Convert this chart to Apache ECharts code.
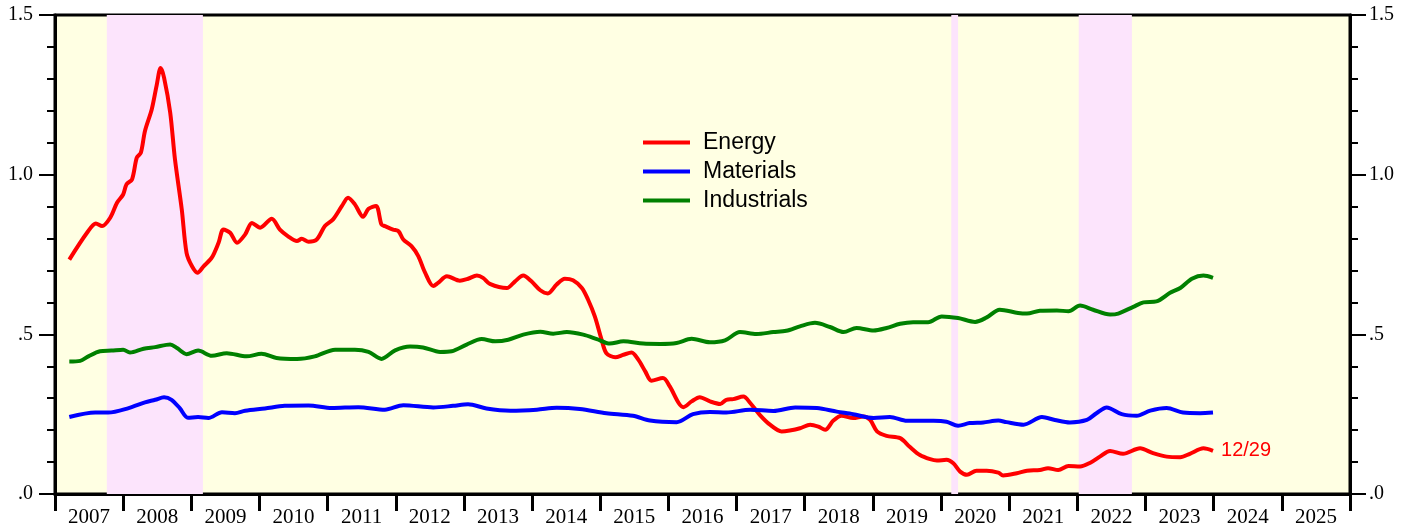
<!DOCTYPE html>
<html>
<head>
<meta charset="utf-8">
<script src="https://cdn.jsdelivr.net/npm/echarts@6/dist/echarts.min.js"></script>
<style>
html, body { margin: 0; padding: 0; background: #ffffff; }
#chart { width: 1418px; height: 529px; }
</style>
</head>
<body>
<div id="chart"></div>
<script>
// x values are decimal years
var years = ['2007','2008','2009','2010','2011','2012','2013','2014','2015','2016',
             '2017','2018','2019','2020','2021','2022','2023','2024','2025'];
var yTicks = [0, 0.5, 1, 1.5];
var yLabels = ['.0', '.5', '1.0', '1.5'];
var recessions = [[2007.76, 2009.17], [2020.15, 2020.25], [2022.02, 2022.80]];
var lastLabel = '12/29';

var energy = [
  [2007.21,0.734],[2007.47,0.818],[2007.60,0.847],[2007.69,0.839],[2007.81,0.865],[2007.91,0.912],
  [2008.00,0.938],[2008.05,0.970],[2008.13,0.985],[2008.20,1.053],[2008.26,1.069],[2008.32,1.137],
  [2008.42,1.205],[2008.49,1.278],[2008.55,1.334],[2008.60,1.304],[2008.69,1.195],[2008.76,1.048],
  [2008.86,0.891],[2008.93,0.755],[2009.01,0.713],[2009.09,0.693],[2009.18,0.713],[2009.30,0.740],
  [2009.40,0.787],[2009.47,0.828],[2009.57,0.818],[2009.67,0.787],[2009.79,0.813],[2009.89,0.849],
  [2010.01,0.834],[2010.18,0.862],[2010.30,0.828],[2010.42,0.807],[2010.55,0.792],[2010.62,0.799],
  [2010.72,0.790],[2010.84,0.797],[2010.96,0.839],[2011.08,0.860],[2011.21,0.902],[2011.30,0.928],
  [2011.40,0.907],[2011.52,0.868],[2011.60,0.893],[2011.71,0.902],[2011.79,0.844],[2011.84,0.839],
  [2011.96,0.828],[2012.04,0.823],[2012.11,0.797],[2012.23,0.776],[2012.33,0.745],[2012.43,0.693],
  [2012.55,0.651],[2012.62,0.661],[2012.75,0.682],[2012.94,0.668],[2013.06,0.674],[2013.19,0.684],
  [2013.28,0.677],[2013.38,0.658],[2013.63,0.645],[2013.75,0.666],[2013.87,0.684],[2013.99,0.666],
  [2014.12,0.638],[2014.23,0.628],[2014.36,0.656],[2014.48,0.674],[2014.60,0.669],[2014.73,0.645],
  [2014.82,0.609],[2014.92,0.556],[2015.02,0.483],[2015.09,0.441],[2015.22,0.428],[2015.34,0.436],
  [2015.46,0.443],[2015.56,0.420],[2015.66,0.384],[2015.75,0.355],[2015.92,0.363],[2016.02,0.337],
  [2016.15,0.285],[2016.22,0.272],[2016.34,0.290],[2016.46,0.303],[2016.61,0.290],[2016.76,0.282],
  [2016.85,0.295],[2016.95,0.297],[2017.10,0.305],[2017.20,0.285],[2017.34,0.248],[2017.49,0.217],
  [2017.66,0.196],[2017.78,0.199],[2017.93,0.206],[2018.08,0.217],[2018.20,0.211],[2018.30,0.201],
  [2018.42,0.230],[2018.54,0.245],[2018.71,0.238],[2018.86,0.243],[2018.96,0.232],[2019.06,0.196],
  [2019.20,0.182],[2019.40,0.175],[2019.54,0.148],[2019.69,0.122],[2019.84,0.109],[2019.94,0.105],
  [2020.08,0.107],[2020.18,0.096],[2020.28,0.070],[2020.38,0.060],[2020.52,0.073],[2020.67,0.073],
  [2020.84,0.067],[2020.91,0.058],[2021.11,0.065],[2021.26,0.073],[2021.45,0.075],[2021.57,0.081],
  [2021.72,0.075],[2021.87,0.088],[2022.04,0.086],[2022.19,0.098],[2022.33,0.117],[2022.48,0.135],
  [2022.67,0.126],[2022.92,0.143],[2023.11,0.128],[2023.31,0.117],[2023.51,0.115],[2023.65,0.126],
  [2023.85,0.143],[2023.99,0.135]
];

var materials = [
  [2007.21,0.241],[2007.59,0.255],[2007.78,0.255],[2008.08,0.269],[2008.32,0.287],[2008.47,0.295],
  [2008.60,0.303],[2008.71,0.295],[2008.83,0.269],[2008.95,0.239],[2009.10,0.241],[2009.25,0.238],
  [2009.45,0.256],[2009.64,0.253],[2009.79,0.261],[2010.08,0.268],[2010.37,0.276],[2010.72,0.277],
  [2011.06,0.269],[2011.45,0.272],[2011.84,0.264],[2012.11,0.278],[2012.55,0.271],[2012.84,0.276],
  [2013.06,0.281],[2013.33,0.268],[2013.68,0.261],[2014.07,0.264],[2014.36,0.270],[2014.70,0.266],
  [2015.09,0.253],[2015.48,0.245],[2015.73,0.230],[2016.12,0.225],[2016.36,0.250],[2016.61,0.257],
  [2016.85,0.255],[2017.20,0.264],[2017.54,0.260],[2017.86,0.271],[2018.18,0.269],[2018.47,0.258],
  [2018.71,0.250],[2019.01,0.238],[2019.25,0.241],[2019.50,0.229],[2019.89,0.229],[2020.08,0.226],
  [2020.25,0.214],[2020.42,0.222],[2020.62,0.224],[2020.84,0.230],[2020.96,0.225],[2021.21,0.217],
  [2021.48,0.241],[2021.67,0.232],[2021.89,0.224],[2022.14,0.232],[2022.28,0.253],[2022.43,0.271],
  [2022.65,0.250],[2022.87,0.245],[2023.07,0.261],[2023.31,0.269],[2023.55,0.255],[2023.80,0.253],
  [2023.99,0.255]
];

var industrials = [
  [2007.21,0.415],[2007.37,0.417],[2007.49,0.431],[2007.66,0.447],[2007.83,0.449],[2008.00,0.452],
  [2008.10,0.443],[2008.30,0.455],[2008.47,0.460],[2008.69,0.468],[2008.79,0.457],[2008.93,0.438],
  [2009.10,0.449],[2009.30,0.433],[2009.52,0.441],[2009.81,0.431],[2010.03,0.439],[2010.25,0.426],
  [2010.55,0.423],[2010.81,0.431],[2011.11,0.452],[2011.40,0.452],[2011.60,0.445],[2011.79,0.423],
  [2011.99,0.450],[2012.21,0.462],[2012.40,0.459],[2012.65,0.445],[2012.82,0.447],[2013.04,0.468],
  [2013.26,0.485],[2013.46,0.478],[2013.65,0.483],[2013.87,0.499],[2014.12,0.508],[2014.31,0.502],
  [2014.51,0.507],[2014.75,0.499],[2014.95,0.485],[2015.14,0.471],[2015.34,0.478],[2015.63,0.471],
  [2015.88,0.470],[2016.12,0.473],[2016.34,0.486],[2016.61,0.475],[2016.83,0.481],[2017.05,0.507],
  [2017.29,0.501],[2017.54,0.507],[2017.73,0.511],[2017.93,0.525],[2018.15,0.536],[2018.37,0.523],
  [2018.57,0.507],[2018.76,0.520],[2019.01,0.512],[2019.20,0.520],[2019.40,0.533],[2019.59,0.538],
  [2019.81,0.538],[2020.01,0.556],[2020.25,0.551],[2020.50,0.539],[2020.67,0.553],[2020.86,0.577],
  [2021.13,0.567],[2021.26,0.565],[2021.45,0.574],[2021.70,0.575],[2021.87,0.572],[2022.04,0.590],
  [2022.23,0.577],[2022.48,0.562],[2022.60,0.565],[2022.82,0.586],[2022.97,0.600],[2023.16,0.603],
  [2023.36,0.630],[2023.51,0.645],[2023.68,0.674],[2023.85,0.684],[2023.99,0.677]
];

var serif = '"Liberation Serif", "Times New Roman", serif';
var sans = '"Liberation Sans", Arial, sans-serif';

function yLabel(v) {
  for (var i = 0; i < yTicks.length; i++) {
    if (Math.abs(v - yTicks[i]) < 1e-6) return yLabels[i];
  }
  return '';
}

function yAxisDef(pos) {
  return {
    type: 'value', position: pos, min: 0, max: 1.5, interval: 0.5,
    axisLine: { show: true, lineStyle: { color: '#000', width: 3 } },
    axisTick: { show: true, length: 16, lineStyle: { color: '#000', width: 2 } },
    minorTick: { show: true, splitNumber: 5, length: 8, lineStyle: { color: '#000', width: 2 } },
    splitLine: { show: false },
    minorSplitLine: { show: false },
    axisLabel: { formatter: yLabel, color: '#000', fontFamily: serif, fontSize: 20, margin: pos === 'left' ? 22 : 19 }
  };
}

var markData = recessions.map(function (r) {
  return [{ xAxis: r[0] }, { xAxis: r[1] }];
});

var chart = echarts.init(document.getElementById('chart'), null, { renderer: 'canvas' });
var lineW = 4;
chart.setOption({
  animation: false,
  backgroundColor: '#ffffff',
  grid: {
    left: 55, right: 68, top: 15, bottom: 35,
    show: true, backgroundColor: '#ffffe3', borderColor: '#000', borderWidth: 3
  },
  legend: {
    orient: 'vertical', left: 638, top: 126,
    data: ['Energy', 'Materials', 'Industrials'],
    icon: 'rect',
    itemWidth: 47, itemHeight: 4, itemGap: 6,
    textStyle: { fontFamily: sans, fontSize: 23, color: '#000', padding: [0, 0, 0, 8] }
  },
  xAxis: [
    {
      type: 'value', min: 2007, max: 2026, interval: 1, position: 'bottom',
      axisLine: { show: true, lineStyle: { color: '#000', width: 3 } },
      axisTick: { show: true, length: 17, lineStyle: { color: '#000', width: 3 } },
      axisLabel: { show: false },
      splitLine: { show: false }
    },
    {
      type: 'category', data: years, boundaryGap: true, position: 'bottom',
      axisLine: { show: false }, axisTick: { show: false },
      axisLabel: { color: '#000', fontFamily: serif, fontSize: 21, margin: 13, interval: 0 },
      splitLine: { show: false }
    }
  ],
  yAxis: [yAxisDef('left'), yAxisDef('right')],
  series: [
    {
      name: 'recession', type: 'line', xAxisIndex: 0, yAxisIndex: 0, z: 1,
      data: [[2007, 0]], symbol: 'none', lineStyle: { opacity: 0 }, silent: true,
      markArea: { silent: true, itemStyle: { color: '#fce4fc' }, data: markData }
    },
    {
      name: 'Energy', type: 'line', xAxisIndex: 0, yAxisIndex: 0, z: 3,
      data: energy, symbol: 'none', smooth: 0.3, color: '#ff0000',
      lineStyle: { color: '#ff0000', width: lineW },
      endLabel: { show: true, formatter: lastLabel, color: '#ff0000', fontFamily: sans, fontSize: 20, distance: 8 }
    },
    {
      name: 'Materials', type: 'line', xAxisIndex: 0, yAxisIndex: 0, z: 3,
      data: materials, symbol: 'none', smooth: 0.3, color: '#0000ff',
      lineStyle: { color: '#0000ff', width: lineW }
    },
    {
      name: 'Industrials', type: 'line', xAxisIndex: 0, yAxisIndex: 0, z: 3,
      data: industrials, symbol: 'none', smooth: 0.3, color: '#008000',
      lineStyle: { color: '#008000', width: lineW }
    }
  ]
});
</script>
</body>
</html>
